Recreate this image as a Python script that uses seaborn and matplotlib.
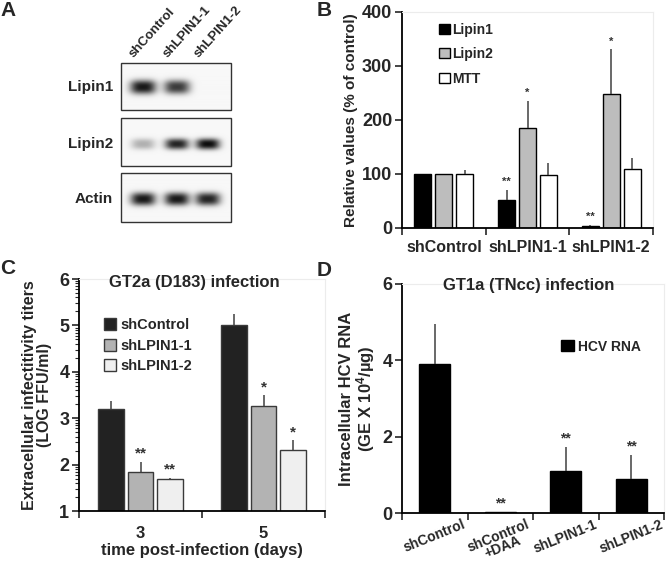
import numpy as np
import pandas as pd
import matplotlib
matplotlib.use("Agg")
import matplotlib.pyplot as plt
import matplotlib.patches as mpatches
import seaborn as sns

# ---- data ----
# panel A (western blot band darkness per lane)
lanes = ["shControl", "shLPIN1-1", "shLPIN1-2"]
blot_rows = ["Lipin1", "Lipin2", "Actin"]
band_lipin1 = [0.95, 0.80, 0.0]
band_lipin2 = [0.30, 0.90, 1.00]
band_actin = [0.95, 0.95, 0.90]

# panel B
groups_b = ["shControl", "shLPIN1-1", "shLPIN1-2"]
series_b = ["Lipin1", "Lipin2", "MTT"]
lipin1_vals = [100, 51, 3]
lipin1_err = [0, 20, 2.5]
lipin2_vals = [100, 185, 249]
lipin2_err = [0, 51, 82]
mtt_vals = [100, 98, 110]
mtt_err = [7, 23, 20]
stars_b = {"Lipin1": ["", "**", "**"], "Lipin2": ["", "*", "*"], "MTT": ["", "", ""]}

# panel C
days_c = ["3", "5"]
series_c = ["shControl", "shLPIN1-1", "shLPIN1-2"]
shcontrol_c = [3.19, 5.01]
shcontrol_c_err = [0.19, 0.24]
shlpin1_1_c = [1.83, 3.27]
shlpin1_1_c_err = [0.22, 0.22]
shlpin1_2_c = [1.70, 2.31]
shlpin1_2_c_err = [0.02, 0.21]
stars_c = {"shControl": ["", ""], "shLPIN1-1": ["**", "*"], "shLPIN1-2": ["**", "*"]}

# panel D
cats_d = ["shControl", "shControl\n+DAA", "shLPIN1-1", "shLPIN1-2"]
hcv_rna = [3.91, 0.02, 1.09, 0.89]
hcv_rna_err = [1.05, 0.0, 0.65, 0.63]
stars_d = ["", "**", "**", "**"]

# ---- style ----
sns.set_style("white")
plt.rcParams["font.family"] = ["Liberation Sans", "DejaVu Sans"]
plt.rcParams["font.weight"] = "bold"
plt.rcParams["axes.labelweight"] = "bold"
plt.rcParams["mathtext.fontset"] = "custom"
plt.rcParams["mathtext.rm"] = "Liberation Sans:bold"
plt.rcParams["mathtext.default"] = "rm"

W, H = 667, 565
fig = plt.figure(figsize=(W / 100, H / 100), dpi=100)


def px_axes(left, top, right, bottom):
    return fig.add_axes([left / W, 1 - bottom / H, (right - left) / W, (bottom - top) / H])


def style_axes(ax):
    for s in ["left", "bottom"]:
        ax.spines[s].set_color("black")
        ax.spines[s].set_linewidth(1.3)
    for s in ["top", "right"]:
        ax.spines[s].set_color("#ececec")
        ax.spines[s].set_linewidth(0.8)
    ax.tick_params(axis="y", direction="out", length=5, width=1.2, left=True, labelsize=13, pad=2)
    ax.tick_params(axis="x", which="major", direction="out", length=5, width=1.2, bottom=True)
    ax.tick_params(axis="x", which="minor", length=0, bottom=True)


def category_ticks(ax, labels, size, rotation=0, pad=4):
    n = len(labels)
    ax.set_xlim(-0.5, n - 0.5)
    ax.set_xticks(np.arange(n + 1) - 0.5)
    ax.set_xticklabels([""] * (n + 1))
    ax.set_xticks(np.arange(n), minor=True)
    ax.set_xticklabels(labels, minor=True, fontsize=size, fontweight="bold", rotation=rotation)
    ax.tick_params(axis="x", which="minor", pad=pad)


def add_errors(ax, hue_names, err_map, star_map, offset=3, star_size=8):
    for container, name in zip(ax.containers, hue_names):
        for i, bar in enumerate(container):
            xc = bar.get_x() + bar.get_width() / 2
            top = bar.get_height()
            e = err_map[name][i]
            if e > 0:
                ax.errorbar(xc, top, yerr=[[0], [e]], fmt="none", ecolor="#404040",
                            elinewidth=1.1, capsize=0, zorder=3)
            s = star_map[name][i]
            if s:
                ax.annotate(s, (xc, top + e), xytext=(0, offset), textcoords="offset points",
                            ha="center", va="bottom", fontsize=star_size, color="#333333",
                            fontweight="bold")


# ---- panel A: western blot ----
ax_a = fig.add_axes([0, 0, 1, 1])
ax_a.set_xlim(0, W)
ax_a.set_ylim(H, 0)
ax_a.axis("off")

lane_x = [143, 177, 208]
boxes = [(63, 110, 87, band_lipin1, 13, 7.0),
         (118, 166, 144, band_lipin2, 12, 5.5),
         (173, 222, 199, band_actin, 12.5, 6.5)]
bx0, bx1 = 121, 231
for (y0, y1, yc, bands, sx, sy), row in zip(boxes, blot_rows):
    xs = np.linspace(bx0, bx1, 220)
    ys = np.linspace(y0, y1, 100)
    X, Y = np.meshgrid(xs, ys)
    dark = np.zeros_like(X)
    for lx, b in zip(lane_x, bands):
        dark += b * np.exp(-np.abs((X - lx) / sx) ** 3) * np.exp(-np.abs((Y - yc) / sy) ** 2.5)
    img = 0.97 - 0.92 * np.clip(dark, 0, 1)
    ax_a.imshow(img, extent=(bx0, bx1, y1, y0), cmap="gray", vmin=0, vmax=1,
                aspect="auto", interpolation="bilinear", zorder=1)
    ax_a.add_patch(mpatches.Rectangle((bx0, y0), bx1 - bx0, y1 - y0, fill=False,
                                      edgecolor="#333333", linewidth=1.0, zorder=2))
    ax_a.text(113, yc, row, ha="right", va="center", fontsize=11, fontweight="bold")

for lx, name in zip(lane_x, lanes):
    ax_a.text(lx - 7, 60, name, rotation=48, rotation_mode="anchor", ha="left",
              va="bottom", fontsize=9.5, fontweight="bold")

for letter, (lx, ly) in zip("ABCD", [(8, 10), (324, 10), (8, 268), (324, 270)]):
    ax_a.text(lx, ly, letter, ha="center", va="center", fontsize=15, fontweight="bold")

# ---- panel B ----
ax_b = px_axes(402, 12, 653, 228)
df_b = pd.DataFrame({
    "group": groups_b * 3,
    "series": np.repeat(series_b, len(groups_b)),
    "value": lipin1_vals + lipin2_vals + mtt_vals,
})
colors_b = ["black", "#bdbdbd", "white"]
sns.barplot(data=df_b, x="group", y="value", hue="series", hue_order=series_b,
            palette=colors_b, width=0.75, gap=0.19, edgecolor="black", linewidth=1.0,
            errorbar=None, legend=False, ax=ax_b, zorder=2)
add_errors(ax_b, series_b, {"Lipin1": lipin1_err, "Lipin2": lipin2_err, "MTT": mtt_err},
           stars_b, offset=2, star_size=8)
ax_b.set_ylim(0, 400)
ax_b.set_yticks([0, 100, 200, 300, 400])
style_axes(ax_b)
category_ticks(ax_b, groups_b, 11.5, pad=9)
ax_b.set_xlabel("")
ax_b.set_ylabel("Relative values (% of control)", fontsize=11, labelpad=3)
handles_b = [mpatches.Patch(facecolor=c, edgecolor="black", linewidth=1.0, label=s)
             for c, s in zip(colors_b, series_b)]
ax_b.legend(handles=handles_b, loc="upper left", bbox_to_anchor=(0.11, 0.995), frameon=False,
            fontsize=10, handlelength=0.75, handleheight=0.75, handletextpad=0.2,
            labelspacing=0.75, borderpad=0.2)

# ---- panel C ----
ax_c = px_axes(79, 279, 325, 511)
df_c = pd.DataFrame({
    "day": days_c * 3,
    "series": np.repeat(series_c, len(days_c)),
    "value": shcontrol_c + shlpin1_1_c + shlpin1_2_c,
})
colors_c = ["#222222", "#b3b3b3", "#efefef"]
sns.barplot(data=df_c, x="day", y="value", hue="series", hue_order=series_c,
            palette=colors_c, width=0.72, gap=0.12, edgecolor="#3a3a3a", linewidth=1.0,
            errorbar=None, legend=False, ax=ax_c, zorder=2)
add_errors(ax_c, series_c, {"shControl": shcontrol_c_err, "shLPIN1-1": shlpin1_1_c_err,
                            "shLPIN1-2": shlpin1_2_c_err}, stars_c, offset=1, star_size=11)
ax_c.set_ylim(1, 6)
ax_c.set_yticks([1, 2, 3, 4, 5, 6])
minor_c = [d + np.log10(k) for d in range(1, 6) for k in range(2, 10)]
ax_c.set_yticks(minor_c, minor=True)
style_axes(ax_c)
ax_c.tick_params(axis="y", which="minor", direction="out", length=3, width=0.8, left=True)
category_ticks(ax_c, days_c, 12, pad=11)
ax_c.set_xlabel("time post-infection (days)", fontsize=12, labelpad=1)
ax_c.set_ylabel("Extracellular infectitivity titers\n(LOG FFU/ml)", fontsize=11.5, labelpad=5,
                linespacing=1.0)
ax_c.text(0.47, 0.985, "GT2a (D183) infection", transform=ax_c.transAxes, ha="center",
          va="center", fontsize=12, fontweight="bold")
handles_c = [mpatches.Patch(facecolor=c, edgecolor="#3a3a3a", linewidth=1.0, label=s)
             for c, s in zip(colors_c, series_c)]
ax_c.legend(handles=handles_c, loc="upper left", bbox_to_anchor=(0.06, 0.875), frameon=False,
            fontsize=10.5, handlelength=0.85, handleheight=0.85, handletextpad=0.3,
            labelspacing=0.45, borderpad=0.2)

# ---- panel D ----
ax_d = px_axes(402, 284, 664, 513)
df_d = pd.DataFrame({"cond": cats_d, "value": hcv_rna, "series": ["HCV RNA"] * len(cats_d)})
sns.barplot(data=df_d, x="cond", y="value", hue="series", palette=["black"], width=0.47,
            edgecolor="black", errorbar=None, legend=False, ax=ax_d, zorder=2)
add_errors(ax_d, ["HCV RNA"], {"HCV RNA": hcv_rna_err}, {"HCV RNA": stars_d},
           offset=1, star_size=10)
ax_d.set_ylim(0, 6)
ax_d.set_yticks([0, 2, 4, 6])
style_axes(ax_d)
category_ticks(ax_d, cats_d, 10, rotation=22, pad=3)
for lab in ax_d.get_xticklabels(minor=True):
    lab.set_ha("center")
    lab.set_linespacing(0.85)
ax_d.set_xlabel("")
ax_d.set_ylabel("Intracellular HCV RNA\n(GE X 10$^{4}$/\u00b5g)", fontsize=12, labelpad=4,
                linespacing=1.0)
ax_d.text(0.485, 0.995, "GT1a (TNcc) infection", transform=ax_d.transAxes, ha="center",
          va="center", fontsize=12, fontweight="bold")
ax_d.legend(handles=[mpatches.Patch(facecolor="black", edgecolor="black", label="HCV RNA")],
            loc="upper left", bbox_to_anchor=(0.57, 0.80), frameon=False, fontsize=10,
            handlelength=0.9, handleheight=0.9, handletextpad=0.3, borderpad=0.2)

fig.savefig("out.png", dpi=100)
